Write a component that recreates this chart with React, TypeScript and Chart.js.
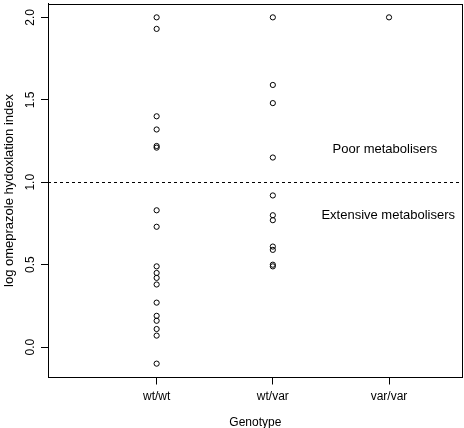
import React, { useEffect, useRef } from "react";
import { Chart, registerables } from "chart.js";

Chart.register(...registerables);

const categories = ["wt/wt", "wt/var", "var/var"];
const wtwt = [2.0, 1.93, 1.4, 1.32, 1.22, 1.21, 0.83, 0.73, 0.49, 0.45, 0.42, 0.38, 0.27, 0.19, 0.16, 0.11, 0.07, -0.1];
const wtvar = [2.0, 1.59, 1.48, 1.15, 0.92, 0.8, 0.77, 0.61, 0.59, 0.5, 0.49];
const varvar = [2.0];
const yTicks = [0, 0.5, 1, 1.5, 2];
const yTickLabels = ["0.0", "0.5", "1.0", "1.5", "2.0"];
const cutoff = 1.0;
const annotations = [
  { text: "Poor metabolisers", x: 2.965, y: 1.2 },
  { text: "Extensive metabolisers", x: 2.993, y: 0.8 },
];

const FONT = "'Liberation Sans', Arial, Helvetica, sans-serif";

export default function App() {
  const ref = useRef<HTMLCanvasElement | null>(null);

  useEffect(() => {
    const canvas = ref.current;
    if (!canvas) return;
    const groups = [wtwt, wtvar, varvar];
    const points: { x: number; y: number }[] = [];
    groups.forEach((g, i) => g.forEach((v) => points.push({ x: i + 1, y: v })));

    const overlay = {
      id: "overlay",
      afterDraw(chart: any) {
        const { ctx, chartArea } = chart;
        const xs = chart.scales.x;
        const ys = chart.scales.y;
        ctx.save();
        // box
        ctx.strokeStyle = "#000";
        ctx.lineWidth = 1;
        ctx.strokeRect(
          Math.round(chartArea.left) + 0.5,
          Math.round(chartArea.top) + 0.5,
          Math.round(chartArea.right - chartArea.left) - 1,
          Math.round(chartArea.bottom - chartArea.top) - 1
        );
        // cutoff line
        const yc = Math.round(ys.getPixelForValue(cutoff)) + 0.5;
        ctx.setLineDash([3, 3]);
        ctx.beginPath();
        ctx.moveTo(chartArea.left, yc);
        ctx.lineTo(chartArea.right, yc);
        ctx.stroke();
        ctx.setLineDash([]);
        // y tick labels (rotated, R style)
        ctx.fillStyle = "#000";
        ctx.font = "12px " + FONT;
        ctx.textAlign = "center";
        ctx.textBaseline = "middle";
        yTicks.forEach((v, i) => {
          const py = ys.getPixelForValue(v);
          ctx.save();
          ctx.translate(31, py);
          ctx.rotate(-Math.PI / 2);
          ctx.fillText(yTickLabels[i], 0, 0);
          ctx.restore();
        });
        // annotations
        ctx.font = "13px " + FONT;
        annotations.forEach((a) => {
          ctx.fillText(a.text, xs.getPixelForValue(a.x), ys.getPixelForValue(a.y));
        });
        ctx.restore();
      },
    };

    const chart = new Chart(canvas, {
      type: "scatter",
      data: {
        datasets: [
          {
            data: points,
            pointStyle: "circle",
            pointRadius: 2.6,
            pointBorderWidth: 1,
            pointBorderColor: "#000",
            pointBackgroundColor: "rgba(0,0,0,0)",
            showLine: false,
          },
        ],
      },
      options: {
        animation: false,
        responsive: false,
        maintainAspectRatio: false,
        layout: { autoPadding: false, padding: { top: 3.5, right: 1.3, left: 0, bottom: 0 } },
        plugins: { legend: { display: false }, tooltip: { enabled: false } },
        scales: {
          x: {
            type: "linear",
            min: 0.065,
            max: 3.634,
            afterBuildTicks: (s: any) => {
              s.ticks = categories.map((_, i) => ({ value: i + 1 }));
            },
            afterFit: (s: any) => {
              s.height = 50.5;
            },
            ticks: {
              callback: (v: any) => categories[Number(v) - 1] ?? "",
              color: "#000",
              font: { family: FONT, size: 12 },
              padding: 5,
              maxRotation: 0,
              autoSkip: false,
            },
            grid: { drawOnChartArea: false, drawTicks: true, tickLength: 7, color: "#000" },
            border: { display: true, color: "#000" },
            title: {
              display: true,
              text: "Genotype",
              color: "#000",
              font: { family: FONT, size: 12 },
              padding: { top: 0, bottom: -2 },
            },
          },
          y: {
            type: "linear",
            min: -0.184,
            max: 2.084,
            afterBuildTicks: (s: any) => {
              s.ticks = yTicks.map((v) => ({ value: v }));
            },
            afterFit: (s: any) => {
              s.width = 48;
            },
            ticks: { display: false },
            grid: { drawOnChartArea: false, drawTicks: true, tickLength: 7, color: "#000" },
            border: { display: true, color: "#000" },
            title: {
              display: true,
              text: "log omeprazole hydoxlation index",
              color: "#000",
              font: { family: FONT, size: 13 },
              padding: { top: 2, bottom: 0 },
            },
          },
        },
      },
      plugins: [overlay],
    });
    return () => chart.destroy();
  }, []);

  return (
    <canvas
      ref={ref}
      width={464}
      height={428}
      style={{ position: "absolute", left: 0, top: 0, width: 464, height: 428, background: "#fff" }}
    />
  );
}
